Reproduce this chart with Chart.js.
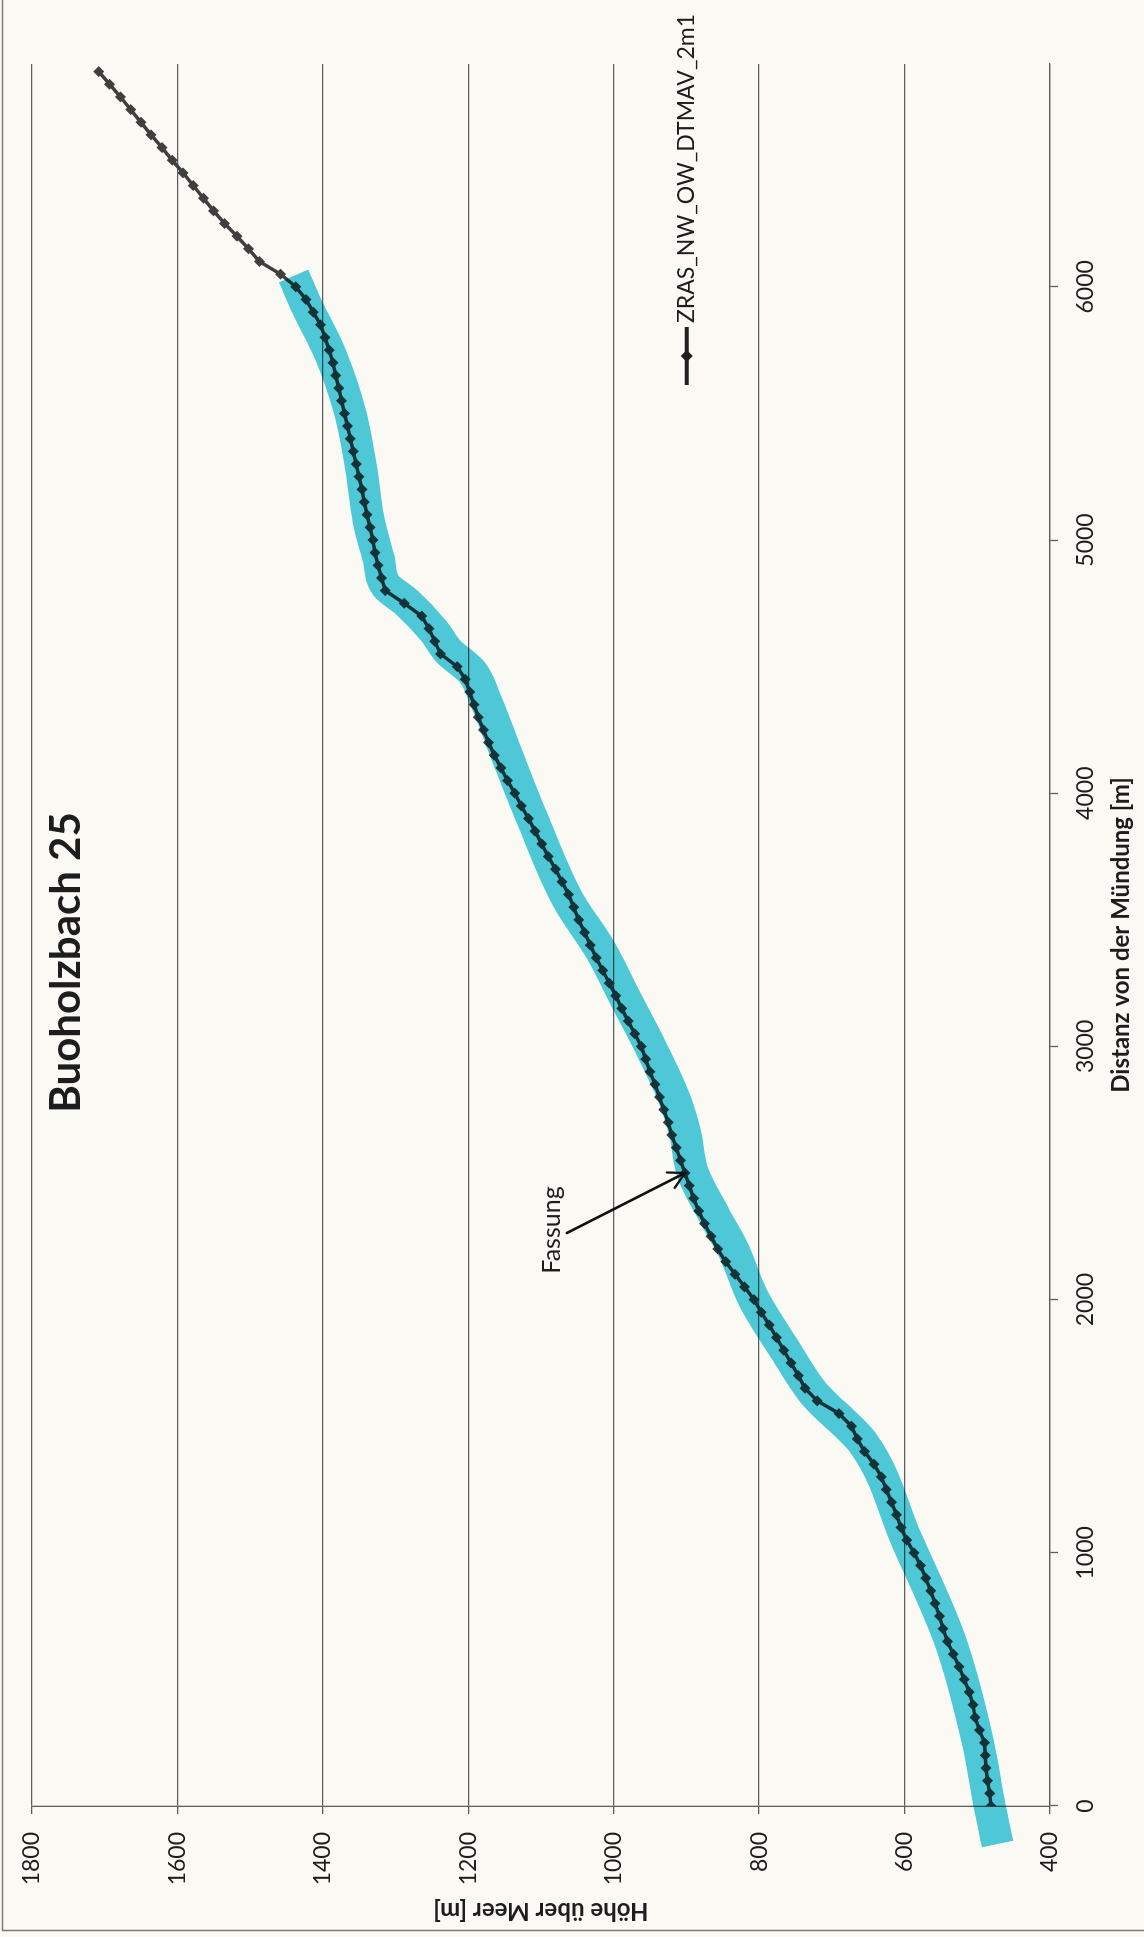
<!DOCTYPE html>
<html>
<head>
<meta charset="utf-8">
<title>Buoholzbach 25</title>
<script src="https://cdn.jsdelivr.net/npm/chart.js@4.4.1/dist/chart.umd.min.js"></script>
<style>
  html, body { margin: 0; padding: 0; width: 1144px; height: 1937px; overflow: hidden; background: #fbf9f3; }
  /* the profile is laid out landscape and turned a quarter turn onto the portrait sheet */
  #sheet { position: absolute; left: 0; top: 0; width: 1937px; height: 1144px;
           transform-origin: 0 0; transform: translateY(1937px) rotate(-90deg); }
  canvas { display: block; }
</style>
</head>
<body>
<div id="sheet"><canvas id="profile" width="1937" height="1144"></canvas></div>
<script>
// ---- texts ----
const chartTitle = 'Buoholzbach 25';
const xAxisTitle = 'Distanz von der Mündung [m]';
const yAxisTitle = 'Höhe über Meer [m]';
const seriesName = 'ZRAS_NW_OW_DTMAV_2m1';
const noteText = 'Fassung';
const notePoint = [2500, 902];

// ---- axis ticks ----
const xTickValues = [0, 1000, 2000, 3000, 4000, 5000, 6000];
const yTickValues = [400, 600, 800, 1000, 1200, 1400, 1600, 1800];

// ---- longitudinal profile: distance from the mouth [m] / elevation [m ü. M.] ----
const distance = [
  0, 50, 100, 150, 200, 250, 300, 350, 400, 450,
  500, 550, 600, 650, 700, 750, 800, 850, 900, 950,
  1000, 1050, 1100, 1150, 1200, 1250, 1300, 1350, 1400, 1450,
  1500, 1550, 1600, 1650, 1700, 1750, 1800, 1850, 1900, 1950,
  2000, 2050, 2100, 2150, 2200, 2250, 2300, 2350, 2400, 2450,
  2500, 2550, 2600, 2650, 2700, 2750, 2800, 2850, 2900, 2950,
  3000, 3050, 3100, 3150, 3200, 3250, 3300, 3350, 3400, 3450,
  3500, 3550, 3600, 3650, 3700, 3750, 3800, 3850, 3900, 3950,
  4000, 4050, 4100, 4150, 4200, 4250, 4300, 4350, 4400, 4450,
  4500, 4550, 4600, 4650, 4700, 4750, 4800, 4850, 4900, 4950,
  5000, 5050, 5100, 5150, 5200, 5250, 5300, 5350, 5400, 5450,
  5500, 5550, 5600, 5650, 5700, 5750, 5800, 5850, 5900, 5950,
  6000, 6050, 6100, 6150, 6200, 6250, 6300, 6350, 6400, 6450,
  6500, 6550, 6600, 6650, 6700, 6750, 6800, 6850
];
const elevation = [
  481, 483, 486, 488, 489, 490, 497, 503, 506, 511,
  518, 525, 533, 541, 547, 552, 558, 564, 571, 578,
  587, 597, 605, 611, 618, 625, 632, 642, 655, 665,
  673, 690, 720, 737, 746, 756, 766, 776, 786, 797,
  807, 820, 833, 846, 857, 866, 875, 883, 890, 896,
  902, 908, 914, 920, 925, 931, 937, 943, 950, 956,
  962, 971, 980, 989, 997, 1006, 1015, 1024, 1032, 1040,
  1048, 1055, 1062, 1071, 1080, 1090, 1099, 1108, 1117, 1127,
  1136, 1146, 1155, 1164, 1172, 1179, 1186, 1192, 1198, 1204,
  1215, 1238, 1246, 1254, 1264, 1288, 1314, 1319, 1324, 1328,
  1331, 1335, 1339, 1343, 1346, 1350, 1354, 1358, 1362, 1366,
  1370, 1374, 1378, 1382, 1386, 1391, 1397, 1403, 1413, 1423,
  1437, 1458, 1487, 1502, 1518, 1535, 1550, 1564, 1578, 1592,
  1607, 1621, 1636, 1650, 1664, 1678, 1693, 1708
];

// ---- marker-pen stroke along the investigated reach ----
const markDistance = [
  -150, 0, 250, 650, 1050, 1430, 1630, 1800, 2000, 2200,
  2330, 2500, 2660, 2790, 2990, 3190, 3380, 3580, 3900, 4160,
  4360, 4480, 4560, 4640, 4755, 4820, 4925, 5080, 5280, 5500,
  5730, 5930, 6043
];
const markElevation = [
  472, 483, 499, 537, 597, 656, 725, 764, 807, 836,
  861, 891, 902, 916, 948, 984, 1018, 1063, 1112, 1148,
  1175, 1195, 1227, 1247, 1285, 1313, 1323, 1337, 1347, 1362,
  1389, 1423, 1440
];

// ---- colours ----
const paper = '#fbf9f3';
const ink = '#1d1d1d';
const gridColor = '#5e5e5e';
const seriesColor = '#3f3f3f';
const markerPen = '#4fcde1';

const toPoints = (xs, ys) => xs.map((x, i) => ({ x: x, y: ys[i] }));

const paperPlugin = {
  id: 'paper',
  beforeDraw(chart) {
    const { ctx, width, height } = chart;
    ctx.save();
    ctx.fillStyle = paper;
    ctx.fillRect(0, 0, width, height);
    ctx.restore();
  }
};

// the marker-pen stroke is translucent ink: multiply it over what lies below
const markerPenPlugin = {
  id: 'markerPen',
  beforeDatasetDraw(chart, args) {
    if (chart.data.datasets[args.index].markerPen) {
      chart.ctx.save();
      chart.ctx.globalCompositeOperation = 'multiply';
    }
  },
  afterDatasetDraw(chart, args) {
    if (chart.data.datasets[args.index].markerPen) chart.ctx.restore();
  }
};

function diamond(ctx, x, y, r) {
  ctx.beginPath();
  ctx.moveTo(x, y - r); ctx.lineTo(x + r, y); ctx.lineTo(x, y + r); ctx.lineTo(x - r, y);
  ctx.closePath(); ctx.fill();
}

const decorPlugin = {
  id: 'decor',
  afterDraw(chart) {
    const { ctx, chartArea, scales, width, height } = chart;
    ctx.save();

    // outer chart frame
    ctx.strokeStyle = '#7c7c7c';
    ctx.lineWidth = 1.5;
    ctx.beginPath();
    ctx.moveTo(width, 2.5); ctx.lineTo(6.5, 2.5); ctx.lineTo(6.5, height);
    ctx.stroke();

    // chart title
    ctx.fillStyle = ink;
    ctx.font = 'bold 42px Lato';
    ctx.textAlign = 'center';
    ctx.textBaseline = 'alphabetic';
    ctx.fillText(chartTitle, width / 2 + 6, chartArea.top + 48);

    // legend entry
    const lx = width - 385, ly = chartArea.top + 655;
    ctx.strokeStyle = '#202020';
    ctx.fillStyle = '#202020';
    ctx.lineWidth = 4;
    ctx.beginPath(); ctx.moveTo(lx, ly); ctx.lineTo(lx + 58, ly); ctx.stroke();
    diamond(ctx, lx + 29, ly, 6);
    ctx.fillStyle = ink;
    ctx.font = '23px Lato';
    ctx.textAlign = 'left';
    ctx.textBaseline = 'middle';
    ctx.fillText(chart.data.datasets[0].label, lx + 62, ly);

    // note with arrow to the intake
    const tx = scales.x.getPixelForValue(notePoint[0]);
    const ty = scales.y.getPixelForValue(notePoint[1]);
    ctx.font = '25px Lato';
    ctx.textAlign = 'center';
    ctx.textBaseline = 'alphabetic';
    ctx.fillText(noteText, tx - 57, ty - 125);
    const sx = tx - 60, sy = ty - 118;
    const ang = Math.atan2(ty - sy, tx - sx);
    ctx.strokeStyle = '#111';
    ctx.lineWidth = 2.6;
    ctx.lineCap = 'round';
    ctx.beginPath(); ctx.moveTo(sx, sy); ctx.lineTo(tx, ty); ctx.stroke();
    ctx.lineWidth = 2.2;
    ctx.beginPath();
    ctx.moveTo(tx - 18 * Math.cos(ang - 0.5), ty - 18 * Math.sin(ang - 0.5));
    ctx.lineTo(tx, ty);
    ctx.lineTo(tx - 18 * Math.cos(ang + 0.5), ty - 18 * Math.sin(ang + 0.5));
    ctx.stroke();

    ctx.restore();
  }
};

new Chart(document.getElementById('profile'), {
  type: 'line',
  data: {
    datasets: [
      {
        label: seriesName,
        data: toPoints(distance, elevation),
        borderColor: seriesColor,
        backgroundColor: seriesColor,
        borderWidth: 3.5,
        pointStyle: 'rectRot',
        pointRadius: 5.5,
        pointBorderWidth: 0,
        tension: 0,
        fill: false,
        order: 2
      },
      {
        label: 'Strecke',
        markerPen: true,
        data: toPoints(markDistance, markElevation),
        borderColor: markerPen,
        borderWidth: 32,
        borderCapStyle: 'butt',
        borderJoinStyle: 'round',
        pointRadius: 0,
        cubicInterpolationMode: 'monotone',
        fill: false,
        clip: false,
        order: 1
      }
    ]
  },
  options: {
    responsive: false,
    animation: false,
    devicePixelRatio: 1,
    layout: { autoPadding: false, padding: { left: 0, right: 64, top: 19, bottom: 4 } },
    plugins: {
      legend: { display: false },
      title: { display: false },
      tooltip: { enabled: false }
    },
    scales: {
      x: {
        type: 'linear',
        min: 0,
        max: 6880,
        afterFit(scale) { scale.height = 90; },
        afterBuildTicks(scale) { scale.ticks = xTickValues.map(v => ({ value: v })); },
        ticks: {
          color: ink, font: { family: 'Lato', size: 23 }, padding: 14,
          maxRotation: 0, autoSkip: false, callback: v => String(v)
        },
        grid: { drawOnChartArea: false, tickLength: 8, tickColor: gridColor, tickWidth: 1.3 },
        border: { display: true, color: gridColor, width: 1.3 },
        title: {
          display: true, text: xAxisTitle, color: ink,
          font: { family: 'Lato', size: 24, weight: 'bold' }, padding: { top: 0, bottom: 4 }
        }
      },
      y: {
        type: 'linear',
        min: 400,
        max: 1800,
        afterFit(scale) { scale.width = 131; },
        afterBuildTicks(scale) { scale.ticks = yTickValues.map(v => ({ value: v })); },
        ticks: {
          color: ink, font: { family: 'Lato', size: 23 }, padding: 18,
          autoSkip: false, callback: v => String(v)
        },
        grid: { color: gridColor, lineWidth: 1.3, tickLength: 8, tickColor: gridColor, tickWidth: 1.3 },
        border: { display: true, color: gridColor, width: 1.3 },
        title: {
          display: true, text: yAxisTitle, color: ink,
          font: { family: 'Lato', size: 24, weight: 'bold' }, padding: { top: 12, bottom: 0 }
        }
      }
    }
  },
  plugins: [paperPlugin, markerPenPlugin, decorPlugin]
});
</script>
</body>
</html>
